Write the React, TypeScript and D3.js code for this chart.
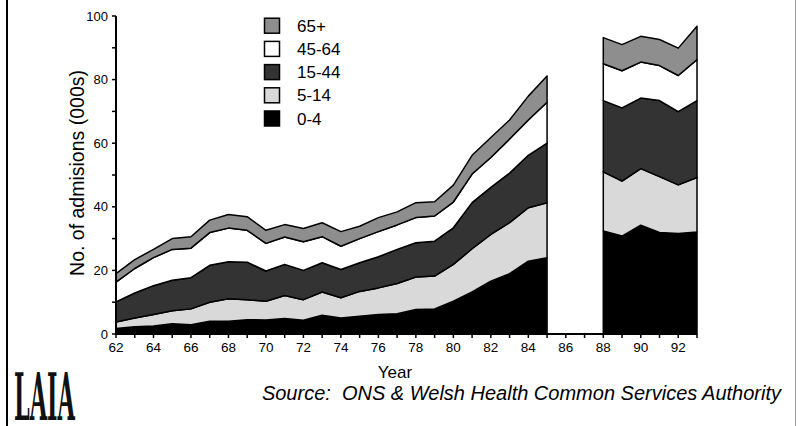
import React from "react";
import * as d3 from "d3";

const years = [62, 63, 64, 65, 66, 67, 68, 69, 70, 71, 72, 73, 74, 75, 76, 77, 78, 79, 80, 81, 82, 83, 84, 85, 88, 89, 90, 91, 92, 93];
const age0to4 = [1.7, 2.3, 2.5, 3.2, 2.9, 4.0, 4.0, 4.5, 4.4, 4.9, 4.3, 5.9, 5.0, 5.6, 6.1, 6.4, 7.7, 7.9, 10.3, 13.2, 16.6, 19.0, 22.9, 24.0, 32.4, 30.8, 34.2, 31.9, 31.6, 32.1];
const age5to14 = [2.1, 2.7, 3.6, 4.1, 5.0, 6.0, 7.1, 6.3, 5.9, 7.2, 6.5, 7.3, 6.4, 7.8, 8.4, 9.5, 10.2, 10.3, 11.6, 13.6, 14.7, 16.0, 16.8, 17.3, 18.6, 17.3, 17.8, 17.6, 15.3, 17.1];
const age15to44 = [6.3, 7.9, 9.1, 9.6, 9.8, 11.6, 11.6, 11.8, 9.5, 9.8, 9.2, 9.2, 8.9, 9.0, 9.8, 10.7, 10.8, 11.0, 11.5, 14.5, 14.8, 15.6, 16.5, 18.7, 22.4, 23.0, 22.2, 23.9, 23.0, 24.2];
const age45to64 = [6.2, 7.7, 8.8, 9.7, 9.3, 10.3, 10.6, 10.0, 8.7, 8.6, 9.0, 8.2, 7.3, 7.6, 7.9, 7.7, 7.9, 7.9, 8.1, 9.0, 9.4, 10.7, 11.1, 12.9, 11.6, 11.7, 11.3, 11.0, 11.4, 12.9];
const age65plus = [2.7, 2.8, 2.6, 3.4, 3.6, 3.9, 4.3, 4.3, 4.1, 3.9, 4.2, 4.4, 4.6, 3.9, 4.4, 4.1, 4.7, 4.5, 5.3, 5.9, 6.3, 6.0, 7.5, 8.2, 8.2, 8.2, 8.1, 8.2, 8.6, 10.5];

const seriesKeys = ["0-4", "5-14", "15-44", "45-64", "65+"];
const seriesValues = [age0to4, age5to14, age15to44, age45to64, age65plus];
const seriesColors = ["#000000", "#d9d9d9", "#333333", "#ffffff", "#8e8e8e"];

const xTickYears = [62, 63, 64, 65, 66, 67, 68, 69, 70, 71, 72, 73, 74, 75, 76, 77, 78, 79, 80, 81, 82, 83, 84, 85, 86, 87, 88, 89, 90, 91, 92, 93];
const xTickLabels = [62, 64, 66, 68, 70, 72, 74, 76, 78, 80, 82, 84, 86, 88, 90, 92];
const yTickValues = [0, 10, 20, 30, 40, 50, 60, 70, 80, 90, 100];
const yTickLabels = [0, 20, 40, 60, 80, 100];

const FONT = "'Liberation Sans', Arial, Helvetica, sans-serif";

export default function App() {
  const W = 798;
  const H = 426;
  const x = d3.scaleLinear().domain([62, 93]).range([116, 697]);
  const y = d3.scaleLinear().domain([0, 100]).range([334, 16]);

  type Row = { year: number; [k: string]: number };
  const rows: Row[] = years.map((yr, i) => {
    const r: Row = { year: yr };
    seriesKeys.forEach((k, j) => (r[k] = seriesValues[j][i]));
    return r;
  });

  // split into contiguous segments
  const segments: Row[][] = [];
  rows.forEach((r, i) => {
    if (i === 0 || r.year - rows[i - 1].year > 1) segments.push([]);
    segments[segments.length - 1].push(r);
  });

  const stack = d3.stack<Row>().keys(seriesKeys);
  const area = d3
    .area<d3.SeriesPoint<Row>>()
    .x((d) => x(d.data.year))
    .y0((d) => y(d[0]))
    .y1((d) => y(d[1]));

  const legendOrder = [4, 3, 2, 1, 0];

  return (
    <svg
      width={W}
      height={H}
      viewBox={`0 0 ${W} ${H}`}
      style={{ position: "absolute", left: 0, top: 0, background: "#fff" }}
    >
      <rect x={0} y={0} width={W} height={H} fill="#fff" />
      {/* page borders */}
      <line x1={7} y1={0} x2={7} y2={H} stroke="#000" strokeWidth={2} />
      <line x1={795.5} y1={0} x2={795.5} y2={H} stroke="#999" strokeWidth={1} />

      {/* stacked areas */}
      {segments.map((seg, si) => {
        const stacked = stack(seg);
        return (
          <g key={si}>
            {stacked.map((s, j) => (
              <path
                key={s.key}
                d={area(s) || ""}
                fill={seriesColors[j]}
                stroke="#000"
                strokeWidth={1.5}
                strokeLinejoin="round"
              />
            ))}
          </g>
        );
      })}

      {/* y axis */}
      <line x1={x(62)} y1={y(0) + 1} x2={x(62)} y2={y(100)} stroke="#000" strokeWidth={2} />
      {yTickValues.map((v) => (
        <line key={v} x1={x(62) - 4} x2={x(62)} y1={y(v)} y2={y(v)} stroke="#000" strokeWidth={1.5} />
      ))}
      {yTickLabels.map((v) => (
        <text
          key={v}
          x={x(62) - 8}
          y={y(v)}
          dy="0.35em"
          textAnchor="end"
          fontFamily={FONT}
          fontSize={13}
          fill="#000"
        >
          {v}
        </text>
      ))}

      {/* x axis */}
      <line x1={x(62) - 1} y1={y(0)} x2={x(93)} y2={y(0)} stroke="#000" strokeWidth={2} />
      {xTickYears.map((v) => (
        <line key={v} x1={x(v)} x2={x(v)} y1={y(0)} y2={y(0) + 4} stroke="#000" strokeWidth={1.5} />
      ))}
      {xTickLabels.map((v) => (
        <text
          key={v}
          x={x(v)}
          y={y(0) + 18}
          textAnchor="middle"
          fontFamily={FONT}
          fontSize={13.5}
          fill="#000"
        >
          {v}
        </text>
      ))}

      {/* axis titles */}
      <text
        x={395}
        y={378}
        textAnchor="middle"
        fontFamily={FONT}
        fontSize={17}
        fill="#000"
      >
        Year
      </text>
      <text
        transform="translate(84,173) rotate(-90)"
        textAnchor="middle"
        fontFamily={FONT}
        fontSize={19.5}
        fill="#000"
      >
        No. of admisions (000s)
      </text>

      {/* legend */}
      {legendOrder.map((j, i) => {
        const cy = 25.7 + i * 23.2;
        return (
          <g key={j}>
            <rect
              x={264.5}
              y={cy - 7.5}
              width={15}
              height={15}
              fill={seriesColors[j]}
              stroke="#000"
              strokeWidth={1.5}
            />
            <text x={297} y={cy} dy="0.36em" fontFamily={FONT} fontSize={17} fill="#000">
              {seriesKeys[j]}
            </text>
          </g>
        );
      })}

      {/* source */}
      <text
        x={781}
        y={400}
        textAnchor="end"
        fontFamily={FONT}
        fontSize={20}
        fontStyle="italic"
        fill="#000"
        style={{ whiteSpace: "pre" }}
      >
        {"Source:  ONS & Welsh Health Common Services Authority"}
      </text>

      {/* logo */}
      <text
        transform="translate(14,420) scale(0.62,1.8)"
        fontFamily="'DejaVu Serif', serif"
        fontWeight="bold"
        fontSize={36}
        fill="#111"
      >
        LAIA
      </text>
    </svg>
  );
}
